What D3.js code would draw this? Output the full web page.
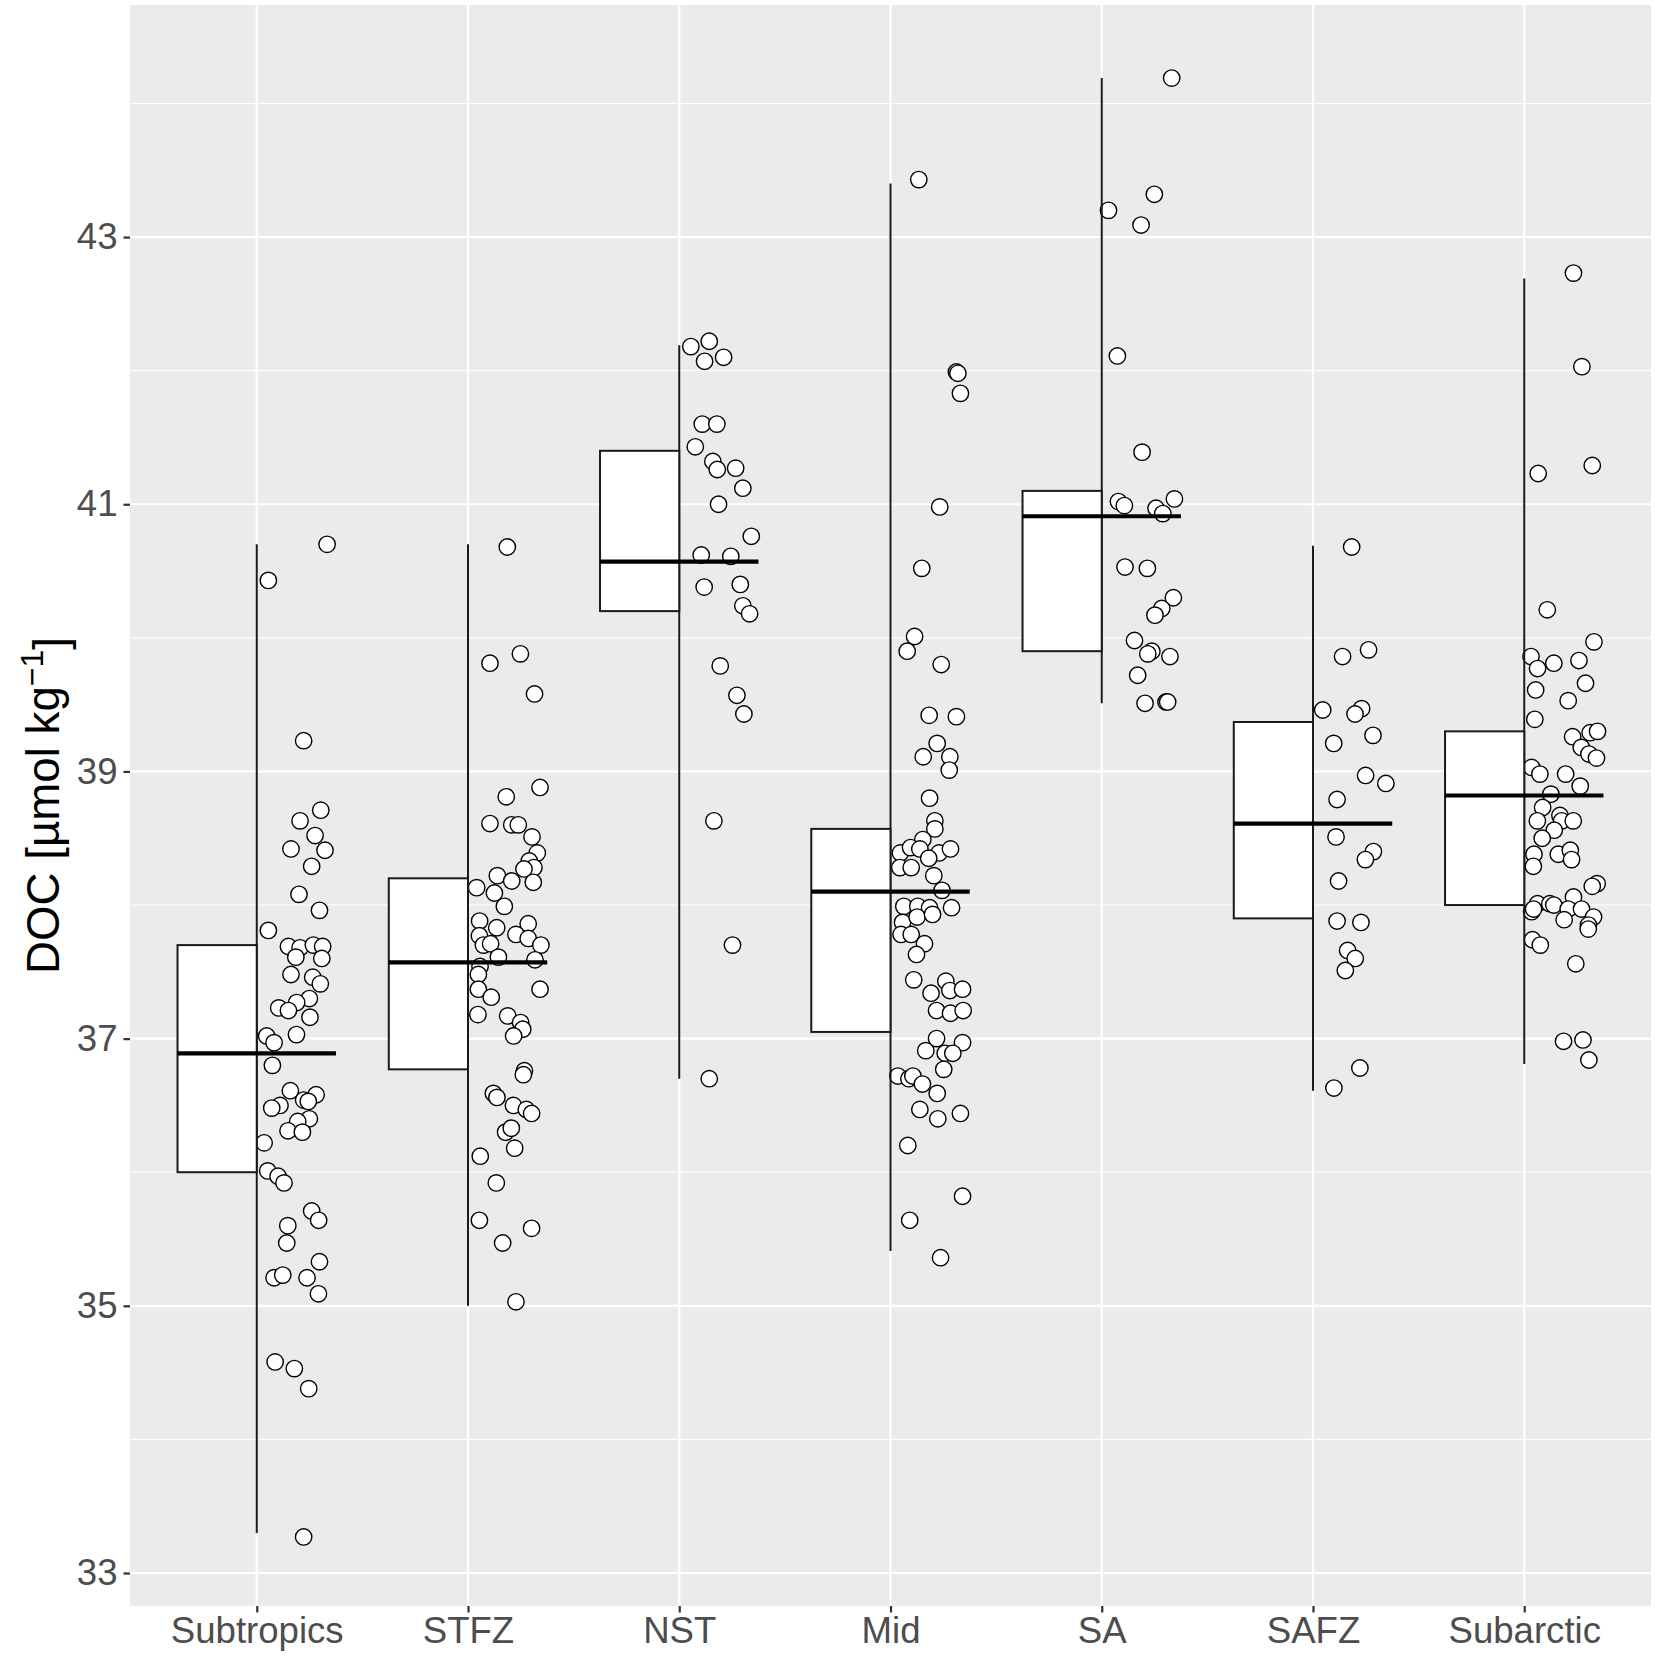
<!DOCTYPE html>
<html>
<head>
<meta charset="utf-8">
<script src="https://cdn.jsdelivr.net/npm/d3@7"></script>
<style>
  html, body { margin: 0; padding: 0; background: #fff; }
  svg { display: block; }
</style>
</head>
<body>
<svg id="chart" width="1655" height="1657"></svg>
<script>
// ---------------- DATA ----------------
const categories = ["Subtropics", "STFZ", "NST", "Mid", "SA", "SAFZ", "Subarctic"];

const whiskerLow  = [33.30, 35.00, 36.70, 35.41, 39.51, 36.61, 36.81];
const boxLow      = [36.00, 36.77, 40.20, 37.05, 39.90, 37.90, 38.00];
const medianVals  = [36.89, 37.57, 40.57, 38.10, 40.91, 38.61, 38.82];
const boxHigh     = [37.70, 38.20, 41.40, 38.57, 41.10, 39.37, 39.30];
const whiskerHigh = [40.70, 40.70, 42.19, 43.40, 44.19, 40.69, 42.69];

const yMajorTicks = [33, 35, 37, 39, 41, 43];
const yMinorTicks = [34, 36, 38, 40, 42, 44];

// Observed DOC values per region, with horizontal jitter (fraction of category step)
const subtropicsDOC = [40.70,40.43,39.23,38.71,38.63,38.52,38.42,38.41,38.29,38.08,37.96,37.81,37.69,37.68,37.70,37.69,37.61,37.60,37.48,37.46,37.41,37.30,37.27,37.23,37.21,37.16,37.03,37.02,36.97,36.80,36.61,36.58,36.54,36.53,36.50,36.48,36.40,36.38,36.31,36.30,36.22,36.01,35.97,35.92,35.71,35.64,35.60,35.47,35.33,35.21,35.23,35.21,35.09,34.58,34.53,34.38,33.27];
const subtropicsJitter = [.333,.055,.222,.303,.205,.276,.162,.323,.26,.2,.297,.055,.15,.205,.268,.312,.185,.308,.162,.265,.301,.249,.189,.104,.15,.252,.188,.047,.082,.074,.159,.281,.222,.244,.11,.071,.249,.194,.148,.216,.035,.052,.101,.129,.26,.293,.147,.142,.297,.082,.123,.238,.292,.087,.178,.246,.222];

const stfzDOC = [40.68,39.88,39.81,39.58,38.88,38.81,38.61,38.60,38.60,38.51,38.39,38.33,38.28,38.27,38.22,38.18,38.17,38.13,38.09,37.99,37.88,37.83,37.86,37.77,37.78,37.75,37.70,37.70,37.71,37.61,37.59,37.54,37.48,37.37,37.37,37.31,37.18,37.17,37.12,37.07,37.02,36.76,36.73,36.59,36.56,36.50,36.47,36.44,36.30,36.33,36.18,36.12,35.92,35.64,35.58,35.47,35.03];
const stfzJitter = [.186,.248,.104,.315,.341,.181,.104,.207,.238,.303,.328,.29,.312,.265,.139,.207,.309,.041,.125,.172,.055,.136,.285,.054,.227,.285,.345,.073,.107,.144,.317,.057,.049,.341,.049,.11,.047,.188,.249,.259,.216,.267,.262,.12,.137,.215,.276,.301,.178,.205,.221,.058,.134,.054,.301,.164,.227];

const nstDOC = [42.18,42.22,42.07,42.10,41.60,41.60,41.43,41.32,41.26,41.27,41.12,41.00,40.76,40.62,40.61,40.38,40.40,40.24,40.18,39.79,39.57,39.43,38.63,37.70,36.70];
const nstJitter = [.055,.142,.12,.21,.109,.178,.076,.159,.18,.267,.301,.186,.341,.104,.244,.118,.289,.301,.333,.194,.273,.306,.164,.252,.142];

const midDOC = [43.43,41.99,41.98,41.83,40.98,40.52,40.01,39.90,39.80,39.42,39.41,39.21,39.11,39.11,39.01,38.80,38.63,38.57,38.49,38.39,38.43,38.42,38.39,38.42,38.35,38.28,38.28,38.22,38.11,37.99,37.99,37.98,37.98,37.87,37.91,37.93,37.78,37.78,37.71,37.63,37.44,37.43,37.34,37.36,37.37,37.21,37.19,37.21,37.00,36.97,36.91,36.89,36.89,36.77,36.72,36.70,36.72,36.66,36.59,36.47,36.40,36.44,36.20,35.82,35.64,35.36];
const midJitter = [.134,.312,.319,.331,.233,.148,.114,.079,.24,.183,.312,.221,.155,.281,.278,.185,.21,.21,.153,.047,.095,.139,.23,.284,.181,.044,.098,.205,.244,.063,.129,.185,.289,.057,.126,.199,.05,.098,.161,.123,.11,.262,.192,.281,.341,.218,.284,.344,.218,.341,.167,.259,.295,.252,.035,.087,.106,.151,.221,.139,.224,.331,.082,.341,.091,.237];

const saDOC = [44.19,43.32,43.20,43.09,42.11,41.39,41.02,40.99,41.04,40.97,40.93,40.53,40.52,40.30,40.22,40.17,39.98,39.90,39.88,39.86,39.72,39.51,39.52,39.52];
const saJitter = [.331,.249,.032,.186,.074,.191,.079,.107,.344,.257,.289,.11,.216,.339,.284,.252,.155,.237,.218,.323,.17,.205,.304,.312];

const safzDOC = [40.68,39.91,39.86,39.46,39.47,39.43,39.27,39.21,38.97,38.91,38.79,38.51,38.40,38.34,38.18,37.88,37.87,37.66,37.60,37.51,36.78,36.63];
const safzJitter = [.183,.263,.14,.046,.23,.199,.284,.098,.249,.345,.114,.109,.286,.248,.121,.114,.227,.164,.2,.153,.222,.099];

const subarcticDOC = [42.73,42.03,41.23,41.29,40.21,39.97,39.86,39.77,39.81,39.83,39.66,39.61,39.53,39.39,39.26,39.29,39.30,39.18,39.13,39.10,39.03,38.98,38.98,38.89,38.83,38.73,38.63,38.67,38.63,38.63,38.56,38.50,38.38,38.38,38.41,38.34,38.29,38.16,38.14,38.01,38.01,38.00,38.06,37.97,37.97,37.91,37.95,37.97,37.89,37.85,37.82,37.74,37.70,37.56,36.98,36.99,36.84];
const subarcticJitter = [.233,.273,.066,.322,.109,.33,.032,.063,.14,.259,.29,.054,.208,.05,.229,.312,.347,.27,.306,.342,.035,.074,.196,.265,.126,.087,.062,.169,.177,.232,.142,.085,.046,.161,.218,.224,.043,.345,.322,.063,.121,.14,.233,.208,.271,.328,.035,.044,.189,.304,.303,.039,.076,.244,.186,.278,.306];

const pointValues = [subtropicsDOC, stfzDOC, nstDOC, midDOC, saDOC, safzDOC, subarcticDOC];
const pointJitter = [subtropicsJitter, stfzJitter, nstJitter, midJitter, saJitter, safzJitter, subarcticJitter];

const yTitle = "DOC [µmol kg";

// ---------------- LAYOUT ----------------
const panel = { left: 130, right: 1651, top: 5, bottom: 1606 };
const svg = d3.select("#chart");
const font = "'Liberation Sans', Arial, Helvetica, sans-serif";

const x = d3.scalePoint().domain(categories).range([panel.left, panel.right]).padding(0.6);
const step = x.step();
const y = d3.scaleLinear().domain([32.753, 44.737]).range([panel.bottom, panel.top]);

// panel background
svg.append("rect")
  .attr("x", panel.left).attr("y", panel.top)
  .attr("width", panel.right - panel.left).attr("height", panel.bottom - panel.top)
  .attr("fill", "#EBEBEB");

const grid = svg.append("g");
grid.selectAll(".minor").data(yMinorTicks.filter(v => y(v) > panel.top && y(v) < panel.bottom)).join("line")
  .attr("x1", panel.left).attr("x2", panel.right)
  .attr("y1", d => y(d)).attr("y2", d => y(d))
  .attr("stroke", "#fff").attr("stroke-width", 1.1);
grid.selectAll(".major").data(yMajorTicks).join("line")
  .attr("x1", panel.left).attr("x2", panel.right)
  .attr("y1", d => y(d)).attr("y2", d => y(d))
  .attr("stroke", "#fff").attr("stroke-width", 2.2);
grid.selectAll(".vmajor").data(categories).join("line")
  .attr("x1", d => x(d)).attr("x2", d => x(d))
  .attr("y1", panel.top).attr("y2", panel.bottom)
  .attr("stroke", "#fff").attr("stroke-width", 2.2);

// points
const ptsG = svg.append("g");
categories.forEach((c, i) => {
  const vals = pointValues[i], jit = pointJitter[i];
  ptsG.selectAll(null).data(vals.map((v, k) => ({ v, j: jit[k] }))).join("circle")
    .attr("cx", d => x(c) + d.j * step)
    .attr("cy", d => y(d.v))
    .attr("r", 8.2)
    .attr("fill", "#fff")
    .attr("stroke", "#000")
    .attr("stroke-width", 1.4);
});

// whiskers, boxes and medians
const boxG = svg.append("g");
categories.forEach((c, i) => {
  const cx = x(c);
  boxG.append("line")
    .attr("x1", cx).attr("x2", cx)
    .attr("y1", y(whiskerLow[i])).attr("y2", y(whiskerHigh[i]))
    .attr("stroke", "#1a1a1a").attr("stroke-width", 2);
  boxG.append("rect")
    .attr("x", cx - 0.375 * step).attr("width", 0.375 * step)
    .attr("y", y(boxHigh[i])).attr("height", y(boxLow[i]) - y(boxHigh[i]))
    .attr("fill", "#fff").attr("stroke", "#1a1a1a").attr("stroke-width", 2);
  boxG.append("line")
    .attr("x1", cx - 0.375 * step).attr("x2", cx + 0.375 * step)
    .attr("y1", y(medianVals[i])).attr("y2", y(medianVals[i]))
    .attr("stroke", "#000").attr("stroke-width", 4.2);
});

// axes
const yAxis = svg.append("g").attr("transform", `translate(${panel.left},0)`)
  .call(d3.axisLeft(y).tickValues(yMajorTicks).tickSize(6.5).tickPadding(6).tickFormat(d3.format("d")));
yAxis.select(".domain").remove();
yAxis.selectAll(".tick line").attr("stroke", "#333").attr("stroke-width", 2.2);
yAxis.selectAll(".tick text").attr("fill", "#4D4D4D").style("font-family", font).style("font-size", "36.6px");

const xAxis = svg.append("g").attr("transform", `translate(0,${panel.bottom})`)
  .call(d3.axisBottom(x).tickSize(6.5).tickPadding(8));
xAxis.select(".domain").remove();
xAxis.selectAll(".tick line").attr("stroke", "#333").attr("stroke-width", 2.2);
xAxis.selectAll(".tick text").attr("fill", "#4D4D4D").style("font-family", font).style("font-size", "36.6px")
  .attr("dy", null).attr("y", 37);

// y title
const yMid = (panel.top + panel.bottom) / 2;
const t = svg.append("text")
  .attr("transform", `translate(59,${yMid}) rotate(-90)`)
  .attr("text-anchor", "middle")
  .style("font-family", font).style("font-size", "45.7px").attr("fill", "#000");
t.append("tspan").text(yTitle);
t.append("tspan").attr("dy", "-0.5em").style("font-size", "32px").text("−1");
t.append("tspan").attr("dy", "0.5em").text("]");
</script>
</body>
</html>
